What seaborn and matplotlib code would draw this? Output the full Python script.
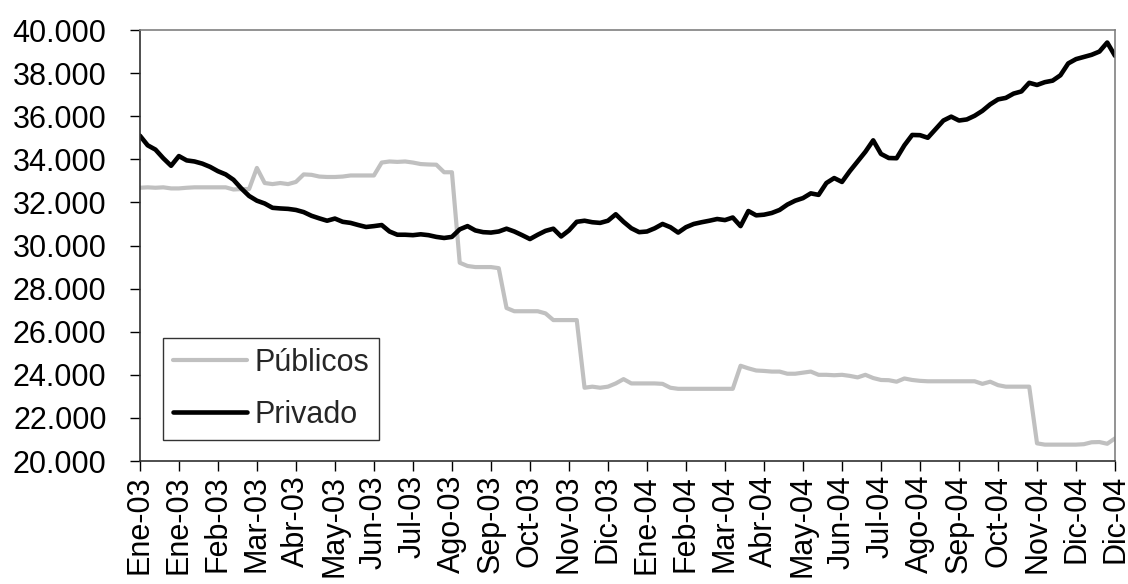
import matplotlib
matplotlib.use("Agg")
import matplotlib.pyplot as plt
import matplotlib.ticker as mticker
import seaborn as sns
import numpy as np
import pandas as pd

# Etiquetas del eje X (una cada 5 observaciones)
etiquetas_x = ["Ene-03", "Ene-03", "Feb-03", "Mar-03", "Abr-03", "May-03", "Jun-03",
               "Jul-03", "Ago-03", "Sep-03", "Oct-03", "Nov-03", "Dic-03", "Ene-04",
               "Feb-04", "Mar-04", "Abr-04", "May-04", "Jun-04", "Jul-04", "Ago-04",
               "Sep-04", "Oct-04", "Nov-04", "Dic-04", "Dic-04"]
paso_etiqueta = 5

# Series
privado = [35100, 34650, 34450, 34050, 33700, 34150, 33950, 33900, 33800, 33650,
           33450, 33300, 33050, 32650, 32300, 32080, 31950, 31750, 31720, 31700,
           31650, 31550, 31380, 31260, 31150, 31250, 31100, 31050, 30950, 30860,
           30900, 30950, 30650, 30500, 30500, 30480, 30520, 30480, 30400, 30350,
           30400, 30750, 30900, 30700, 30620, 30600, 30650, 30780, 30650, 30480,
           30300, 30500, 30680, 30780, 30420, 30700, 31100, 31150, 31080, 31050,
           31150, 31450, 31100, 30800, 30620, 30650, 30800, 31000, 30850, 30600,
           30850, 31000, 31080, 31150, 31230, 31180, 31300, 30900, 31600, 31400,
           31430, 31510, 31650, 31900, 32080, 32200, 32420, 32350, 32900, 33130,
           32950, 33450, 33900, 34350, 34880, 34250, 34060, 34050, 34650, 35130,
           35120, 35000, 35400, 35800, 35980, 35800, 35850, 36020, 36250, 36550,
           36780, 36850, 37050, 37150, 37550, 37450, 37580, 37650, 37900, 38450,
           38650, 38750, 38850, 39000, 39420, 38800]

publicos = [32680, 32700, 32680, 32700, 32650, 32650, 32680, 32700, 32700, 32700,
            32700, 32700, 32600, 32620, 32620, 33600, 32900, 32850, 32900, 32850,
            32950, 33300, 33280, 33200, 33180, 33180, 33200, 33250, 33250, 33250,
            33250, 33850, 33900, 33880, 33900, 33850, 33780, 33760, 33750, 33400,
            33400, 29200, 29050, 29000, 29000, 29000, 28950, 27100, 26950, 26950,
            26950, 26950, 26850, 26540, 26540, 26540, 26540, 23400, 23450, 23400,
            23450, 23600, 23800, 23600, 23600, 23600, 23600, 23580, 23400, 23350,
            23350, 23350, 23350, 23350, 23350, 23350, 23350, 24420, 24300, 24200,
            24180, 24150, 24150, 24050, 24050, 24100, 24150, 24000, 24000, 23980,
            24000, 23950, 23880, 24000, 23850, 23760, 23750, 23680, 23830, 23760,
            23720, 23700, 23700, 23700, 23700, 23700, 23700, 23700, 23580, 23680,
            23520, 23450, 23450, 23450, 23450, 20820, 20760, 20760, 20760, 20760,
            20760, 20780, 20870, 20880, 20800, 21050]

df = pd.DataFrame({"t": np.arange(len(privado)), "Públicos": publicos, "Privado": privado})

sns.set_style("white")
plt.rcParams["font.family"] = ["Liberation Sans", "DejaVu Sans"]

fig = plt.figure(figsize=(11.28, 5.84), dpi=100)
ax = fig.add_axes([0.124, 0.2106, 0.8645, 0.738])

sns.lineplot(data=df, x="t", y="Públicos", ax=ax, color="#C0C0C0", linewidth=3.0, label="Públicos")
sns.lineplot(data=df, x="t", y="Privado", ax=ax, color="black", linewidth=3.3, label="Privado")

ax.set_xlim(0, len(privado) - 1)
ax.set_ylim(20000, 40000)
ax.set_yticks(np.arange(20000, 40001, 2000))
ax.yaxis.set_major_formatter(mticker.FuncFormatter(lambda v, p: f"{v:,.0f}".replace(",", ".")))
ax.set_xticks(np.arange(0, len(privado), paso_etiqueta))
ax.set_xticklabels(etiquetas_x, rotation=90)
ax.set_xlabel("")
ax.set_ylabel("")

ax.tick_params(axis="both", which="major", labelsize=22, colors="black",
               direction="out", length=7, width=1, left=True, bottom=True)
ax.tick_params(axis="y", pad=17)
ax.tick_params(axis="x", pad=3)
for lado in ["top", "right"]:
    ax.spines[lado].set_color("#808080")
    ax.spines[lado].set_linewidth(1.2)
for lado in ["left", "bottom"]:
    ax.spines[lado].set_color("#303030")
    ax.spines[lado].set_linewidth(1.2)

leg = ax.legend(loc="lower left", bbox_to_anchor=(0.024, 0.049), borderaxespad=0,
                fontsize=22, frameon=True, fancybox=False, handlelength=2.4,
                handletextpad=0.25, borderpad=0.33, labelspacing=0.72)
leg.get_frame().set_edgecolor("black")
leg.get_frame().set_linewidth(1.0)

fig.savefig("out.png", dpi=100)
